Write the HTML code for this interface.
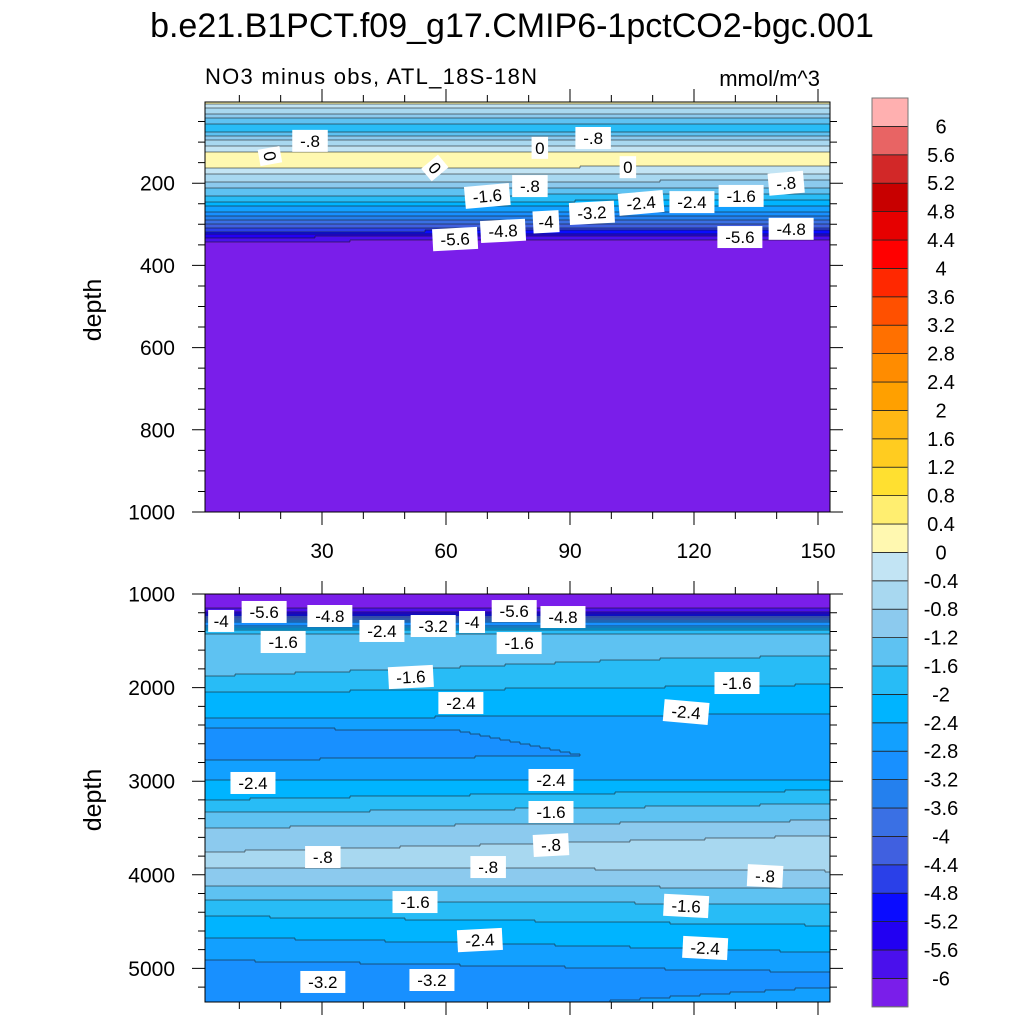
<!DOCTYPE html>
<html><head><meta charset="utf-8"><style>
html,body{margin:0;padding:0;background:#fff;}
svg{display:block;font-family:"Liberation Sans",sans-serif;}
</style></head><body>
<svg id="chart" width="1024" height="1024" viewBox="0 0 1024 1024">
<text x="512" y="37" font-size="34" text-anchor="middle">b.e21.B1PCT.f09_g17.CMIP6-1pctCO2-bgc.001</text>
<text x="205" y="84" font-size="22" textLength="332">NO3 minus obs, ATL_18S-18N</text>
<text x="820" y="86" font-size="22" text-anchor="end">mmol/m^3</text>
<text transform="translate(101,310) rotate(-90)" font-size="25" text-anchor="middle">depth</text>
<text transform="translate(101,800) rotate(-90)" font-size="25" text-anchor="middle">depth</text>
<g id="topPanel"></g>
<g id="botPanel"></g>
<g id="cbar"></g>
</svg>
<script>
// contour levels and fill colours
const levels = [-6,-5.6,-5.2,-4.8,-4.4,-4,-3.6,-3.2,-2.8,-2.4,-2,-1.6,-1.2,-0.8,-0.4,0,0.4,0.8,1.2,1.6,2,2.4,2.8,3.2,3.6,4,4.4,4.8,5.2,5.6,6];
const levelLabels = ["-6","-5.6","-5.2","-4.8","-4.4","-4","-3.6","-3.2","-2.8","-2.4","-2","-1.6","-1.2","-0.8","-0.4","0","0.4","0.8","1.2","1.6","2","2.4","2.8","3.2","3.6","4","4.4","4.8","5.2","5.6","6"];
const colors = ["#7A1EEA","#4A10EC","#2200F2","#0A0CFF","#2A40E8","#4060E0","#3A70E4","#2480EE","#1890FF","#12A0FF","#00B4FF","#28BCF6","#5EC2F2","#8CCAEE","#A8D8F0","#C2E4F4","#FFF8B0","#FFEE70","#FFE030","#FFCC20","#FFB814","#FFA000","#FF8C00","#FF7000","#FF5000","#FF2800","#FF0000","#E60000","#C80000","#D22828","#E86464","#FFB0B0"];
// top panel profiles (depth m, value) at west and east edge
const topDepthL = [2,5,22,34,46,58,63,71,83,95,107,119,124,144,161,168,185,200,217,234,248,260,273,285,294,304,311,319,326,333,341,348,1000];
const topValL   = [0.05,0.05,-0.5,-0.9,-1.3,-1.7,-1.9,-1.7,-1.2,-0.8,-0.5,-0.2,0.1,0.2,0.1,-0.2,-0.5,-0.9,-1.3,-1.7,-2.1,-2.5,-2.9,-3.3,-3.7,-4.1,-4.5,-4.9,-5.3,-5.7,-6.0,-6.2,-6.5];
const topDepthR = [2,5,22,34,46,58,63,71,83,95,107,119,124,144,155,165,182,198,215,232,246,258,271,283,292,302,309,317,324,331,339,346,1000];
const topValR   = [0.05,0.05,-0.5,-0.9,-1.3,-1.7,-1.9,-1.7,-1.2,-0.8,-0.5,-0.2,0.1,0.2,0.1,-0.2,-0.5,-0.9,-1.3,-1.7,-2.1,-2.5,-2.9,-3.3,-3.7,-4.1,-4.5,-4.9,-5.3,-5.7,-6.0,-6.2,-6.5];
// bottom panel profiles
const botDepthL = [1000,1128,1171,1214,1256,1299,1342,1385,1449,1705,1876,2026,2186,2368,2453,2720,2774,2987,3201,3340,3500,3756,3842,3917,4109,4259,4440,4665,4910,5124,5359];
const botValL   = [-6.6,-6.4,-5.8,-5.0,-4.2,-3.4,-2.6,-1.9,-1.45,-1.4,-1.6,-1.95,-2.2,-2.45,-2.9,-2.95,-2.8,-2.4,-2.0,-1.6,-1.2,-0.8,-0.7,-0.8,-1.2,-1.6,-2.0,-2.4,-2.8,-3.2,-3.05];
const botDepthR = [1000,1128,1171,1214,1256,1299,1342,1385,1449,1600,1705,1876,2026,2186,2368,2453,2720,2774,2990,3100,3240,3420,3580,3750,3960,4140,4320,4540,4830,5040,5130,5200,5359];
const botValR   = [-6.6,-6.4,-5.8,-5.0,-4.2,-3.4,-2.6,-1.9,-1.45,-1.45,-1.7,-1.85,-2.1,-2.3,-2.5,-2.65,-2.7,-2.65,-2.4,-2.0,-1.6,-1.2,-0.8,-0.55,-0.8,-1.2,-1.6,-2.0,-2.4,-2.8,-2.9,-2.8,-2.65];
// contour labels: [lon, depth, text, rotation]
const topLabels = [[27.1,97,"-.8",0],[17.4,134,"0",80],[57.3,163,"0",50],[82.7,114,"0",0],[95.6,90,"-.8",0],[104,161,"0",0],[70,231,"-1.6",-5],[80.3,207,"-.8",0],[131.4,231,"-1.6",0],[142.3,200,"-.8",-5],[107.2,248,"-2.4",-5],[119.5,246,"-2.4",0],[95.3,272,"-3.2",-3],[84.2,294,"-4",-3],[73.8,316,"-4.8",-3],[62.2,336,"-5.6",-3],[131.1,331,"-5.6",0],[143.5,311,"-4.8",0]];
const botLabels = [[5.6,1288,"-4",0],[16,1192,"-5.6",0],[31.9,1235,"-4.8",0],[44.5,1395,"-2.4",0],[56.9,1342,"-3.2",0],[66.3,1299,"-4",0],[76.5,1182,"-5.6",0],[88.3,1246,"-4.8",0],[20.6,1513,"-1.6",0],[77.7,1524,"-1.6",0],[51.5,1887,"-1.6",-3],[63.6,2165,"-2.4",0],[130.4,1951,"-1.6",0],[118.1,2261,"-2.4",5],[13.3,3019,"-2.4",0],[85.4,2987,"-2.4",0],[85.4,3329,"-1.6",0],[85.4,3682,"-.8",-3],[30.2,3810,"-.8",0],[70.2,3917,"-.8",0],[137.2,4013,"-.8",3],[52.5,4291,"-1.6",0],[118.1,4333,"-1.6",3],[68.2,4697,"-2.4",-3],[122.7,4782,"-2.4",3],[30.2,5145,"-3.2",0],[56.6,5124,"-3.2",0]];
const xTicks = [30,60,90,120,150];
const xTickLabels = ["30","60","90","120","150"];
const topYTicks = [200,400,600,800,1000];
const topYTickLabels = ["200","400","600","800","1000"];
const botYTicks = [1000,2000,3000,4000,5000];
const botYTickLabels = ["1000","2000","3000","4000","5000"];

const NS='http://www.w3.org/2000/svg';
function mk(tag,attrs,parent){const e=document.createElementNS(NS,tag);for(const k in attrs)e.setAttribute(k,attrs[k]);parent.appendChild(e);return e;}
const PX0=205,PX1=830;
function X(v){return 198+v*4.1333;}
function Xinv(px){return (px-198)/4.1333;}
function interp(ds,vs,d){if(d<=ds[0])return vs[0];for(let i=1;i<ds.length;i++){if(d<=ds[i]){const t=(d-ds[i-1])/(ds[i]-ds[i-1]);return vs[i-1]+t*(vs[i]-vs[i-1]);}}return vs[vs.length-1];}
function cls(v){let c=0;while(c<levels.length&&v>=levels[c])c++;return c;}

function drawPanel(g,Y,Yinv,y0,y1,dL,vL,dR,vR,labels,yt,ytl,showXLabels,minorY){
  const cw=5,ch=2;
  const ncol=Math.ceil((PX1-PX0)/cw), nrow=Math.ceil((y1-y0)/ch);
  const grid=[];
  for(let i=0;i<ncol;i++){
    const px=PX0+(i+0.5)*cw;const t=(Xinv(px)-Xinv(PX0))/(Xinv(PX1)-Xinv(PX0));
    const col=[];
    for(let j=0;j<nrow;j++){const d=Yinv(y0+(j+0.5)*ch);
      const v=(1-t)*interp(dL,vL,d)+t*interp(dR,vR,d);col.push(cls(v));}
    grid.push(col);
  }
  const fills=mk('g',{},g);
  
  
  for(let i=0;i<ncol;i++){let j=0;while(j<nrow){let k=j;while(k+1<nrow&&grid[i][k+1]===grid[i][j])k++;
    const x=PX0+i*cw;const w=Math.min(cw,PX1-x)+0.5;
    const r=mk('rect',{x:x,y:y0+j*ch,width:w,height:Math.min((k-j+1)*ch,y1-(y0+j*ch))+0.3,fill:colors[grid[i][j]]},fills);
    
    
    j=k+1;}}
  let p='';
  for(let i=0;i<ncol;i++)for(let j=0;j<nrow;j++){
    const x=PX0+i*cw,y=y0+j*ch;
    if(j+1<nrow&&grid[i][j]!==grid[i][j+1])p+=`M${x},${y+ch}h${Math.min(cw,PX1-x)}`;
    if(i+1<ncol&&grid[i][j]!==grid[i+1][j])p+=`M${x+cw},${y}v${ch}`;
  }
  const cl=mk('path',{d:p,stroke:'#1a1a1a','stroke-width':0.7,fill:'none','stroke-opacity':0.75},g);
  
  
  labels.forEach(l=>{
    const lg=mk('g',{transform:`translate(${X(l[0])},${Y(l[1])}) rotate(${l[3]})`},g);
    
    
    const w=l[2].length*9.5+7;
    mk('rect',{x:-w/2,y:-11,width:w,height:22,fill:'#fff'},lg);
    mk('text',{x:0,y:6,'font-size':17,'text-anchor':'middle'},lg).textContent=l[2];
  });
  const fr=mk('rect',{x:PX0,y:y0,width:PX1-PX0,height:y1-y0,fill:'none',stroke:'#000','stroke-width':1},g);
  
  
  let tp='';
  for(let v=10;v<=150;v+=10){const x=X(v);if(x<PX0||x>PX1)continue;const L=(v%30===0)?13:7;
    tp+=`M${x},${y0}v${-L}M${x},${y1}v${L}`;}
  for(let d=Math.ceil(Yinv(y0)/minorY)*minorY;Y(d)<=y1+0.5;d+=minorY){const y=Y(d);const L=yt.includes(d)?13:7;
    tp+=`M${PX0},${y}h${-L}M${PX1},${y}h${L}`;}
  const tk=mk('path',{d:tp,stroke:'#000','stroke-width':1},g);
  
  
  yt.forEach((d,i)=>{const t=mk('text',{x:175,y:Y(d)+7.5,'font-size':21,'text-anchor':'end'},g);t.textContent=ytl[i];
    
    });
  if(showXLabels)xTicks.forEach((v,i)=>{const t=mk('text',{x:X(v),y:y1+46,'font-size':21,'text-anchor':'middle'},g);t.textContent=xTickLabels[i];
    
    });
}
const Yt=d=>101+d*0.411, Ytinv=y=>(y-101)/0.411;
const Yb=d=>594+(d-1000)*0.0936, Ybinv=y=>1000+(y-594)/0.0936;
drawPanel(document.getElementById('topPanel'),Yt,Ytinv,102,512,topDepthL,topValL,topDepthR,topValR,topLabels,topYTicks,topYTickLabels,true,50);
drawPanel(document.getElementById('botPanel'),Yb,Ybinv,594,1002,botDepthL,botValL,botDepthR,botValR,botLabels,botYTicks,botYTickLabels,false,200);
const cb=document.getElementById('cbar');
const CB0=98,CBH=28.4,CBX=872,CBW=36;
const n=colors.length;
for(let i=0;i<n;i++){const y=CB0+(n-1-i)*CBH;
  const r=mk('rect',{x:CBX,y:y,width:CBW,height:CBH,fill:colors[i],stroke:'#222','stroke-width':0.8},cb);
  
  }
const ob=mk('rect',{x:CBX,y:CB0,width:CBW,height:n*CBH,fill:'none',stroke:'#777','stroke-width':1},cb);


levels.forEach((lv,i)=>{const y=CB0+(n-1-i)*CBH;
  const t=mk('text',{x:941,y:y+7,'font-size':20,'text-anchor':'middle'},cb);t.textContent=levelLabels[i];
  
  });
</script>
</body></html>
